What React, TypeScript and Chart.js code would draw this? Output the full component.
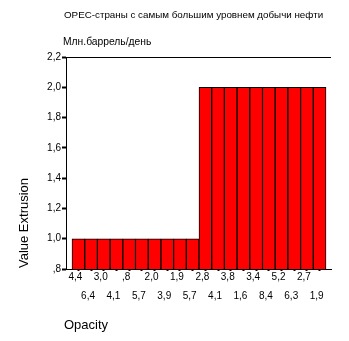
import React, { useEffect, useRef } from "react";
import { Chart, registerables } from "chart.js";

Chart.register(...registerables);

const categories = [
  "4,4", "6,4", "3,0", "4,1", ",8", "5,7", "2,0", "3,9", "1,9", "5,7",
  "2,8", "4,1", "3,8", "1,6", "3,4", "8,4", "5,2", "6,3", "2,7", "1,9",
];
const values = [
  1.0, 1.0, 1.0, 1.0, 1.0, 1.0, 1.0, 1.0, 1.0, 1.0,
  2.0, 2.0, 2.0, 2.0, 2.0, 2.0, 2.0, 2.0, 2.0, 2.0,
];
const yTicks = [0.8, 1.0, 1.2, 1.4, 1.6, 1.8, 2.0, 2.2];
const titleText = "OPEC-страны с самым большим уровнем добычи нефти";
const subtitleText = "Млн.баррель/день";
const yTitle = "Value Extrusion";
const xTitle = "Opacity";

const FONT = "'Liberation Sans', Arial, sans-serif";

const textPlugin = {
  id: "texts",
  afterDraw(chart: any) {
    const { ctx, chartArea } = chart;
    ctx.save();
    ctx.strokeStyle = "#000";
    ctx.lineWidth = 1;
    ctx.beginPath();
    ctx.moveTo(chartArea.left, chartArea.top + 0.5);
    ctx.lineTo(chartArea.right, chartArea.top + 0.5);
    ctx.stroke();

    ctx.fillStyle = "#000";
    ctx.textBaseline = "middle";
    ctx.textAlign = "left";
    ctx.font = `9.8px ${FONT}`;
    ctx.fillText(titleText, 64, 15);
    ctx.font = `10.3px ${FONT}`;
    ctx.fillText(subtitleText, 63, 42);
    ctx.font = `13px ${FONT}`;
    ctx.fillText(xTitle, 64, 325);
    ctx.translate(24, 223);
    ctx.rotate(-Math.PI / 2);
    ctx.textAlign = "center";
    ctx.fillText(yTitle, 0, 0);
    ctx.restore();
  },
};

export default function App() {
  const ref = useRef<HTMLCanvasElement | null>(null);
  useEffect(() => {
    if (!ref.current) return;
    const chart = new Chart(ref.current, {
      type: "bar",
      data: {
        datasets: [
          {
            data: values.map((v, i) => ({ x: i, y: v })),
            backgroundColor: "#ff0000",
            borderColor: "#000000",
            borderWidth: 1,
            barPercentage: 1,
            categoryPercentage: 1,
          },
        ],
      },
      options: {
        animation: false,
        responsive: false,
        maintainAspectRatio: false,
        layout: { padding: { left: 0, right: 18, top: 57, bottom: 0 } },
        plugins: { legend: { display: false }, tooltip: { enabled: false }, title: { display: false } },
        scales: {
          x: {
            type: "linear",
            offset: false,
            min: -0.972,
            max: 19.894,
            afterBuildTicks: (scale: any) => {
              scale.ticks = categories.map((_, i) => ({ value: i }));
            },
            afterFit: (scale: any) => {
              scale.height = 72;
            },
            grid: {
              offset: false,
              drawOnChartArea: false,
              drawTicks: true,
              tickLength: 2,
              tickWidth: 2,
              tickColor: "#000",
            },
            border: { display: true, color: "#000", width: 1 },
            ticks: {
              autoSkip: false,
              maxRotation: 0,
              minRotation: 0,
              padding: 1,
              labelOffset: -3,
              color: "#000",
              font: { family: FONT, size: 10, lineHeight: 0.95 },
              callback: (_v: any, i: number) => (i % 2 === 0 ? categories[i] : ["", "", categories[i]]),
            },
          },
          y: {
            min: 0.8,
            max: 2.2,
            afterBuildTicks: (scale: any) => {
              scale.ticks = yTicks.map((v) => ({ value: v }));
            },
            afterFit: (scale: any) => {
              scale.width = 66;
            },
            grid: {
              drawOnChartArea: false,
              drawTicks: true,
              tickLength: 4,
              tickWidth: 2,
              tickColor: "#000",
            },
            border: { display: true, color: "#000", width: 1 },
            ticks: {
              padding: 1,
              color: "#000",
              font: { family: FONT, size: 10 },
              callback: (v: any) => {
                const s = Number(v).toFixed(1).replace(".", ",");
                return s.startsWith("0") ? s.slice(1) : s;
              },
            },
          },
        },
      },
      plugins: [textPlugin],
    });
    return () => chart.destroy();
  }, []);
  return (
    <div style={{ position: "absolute", left: 0, top: 0, width: 349, height: 341, background: "#fff" }}>
      <canvas ref={ref} width={349} height={341} style={{ width: 349, height: 341, display: "block" }} />
    </div>
  );
}
